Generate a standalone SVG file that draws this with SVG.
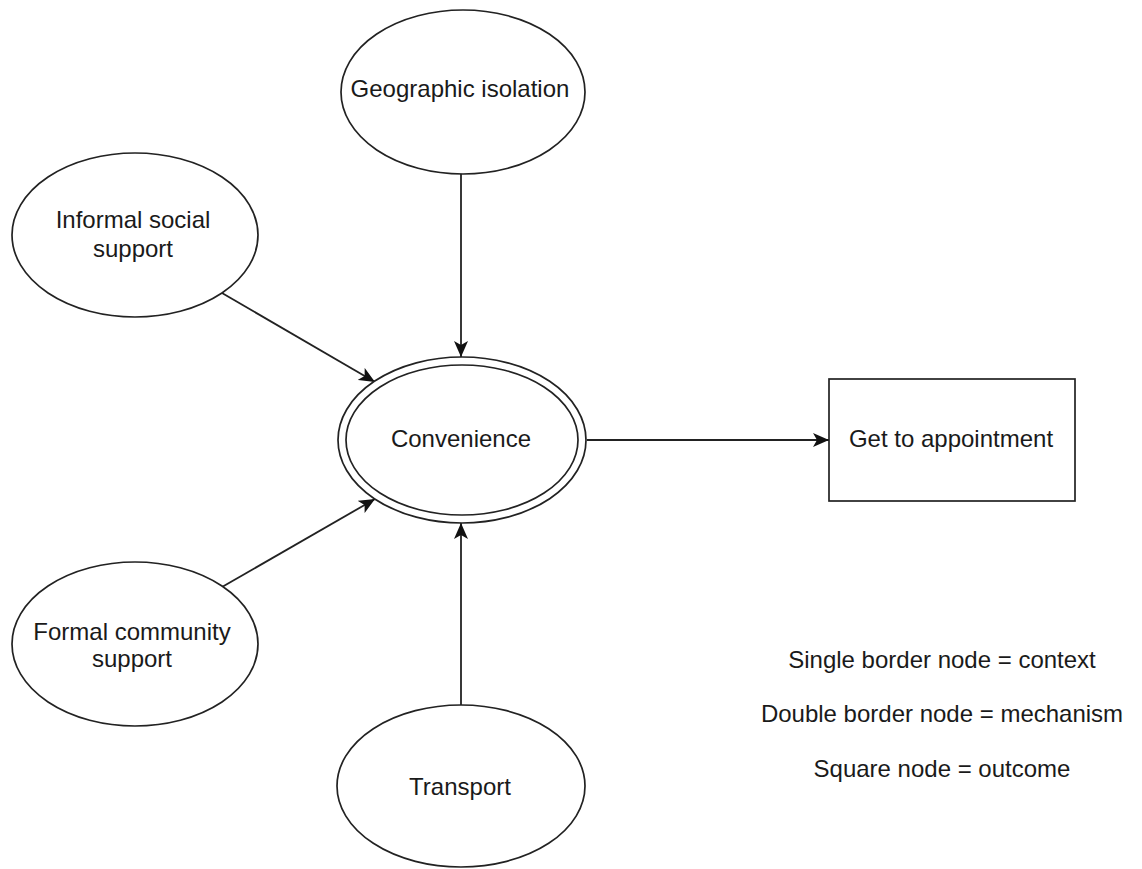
<svg xmlns="http://www.w3.org/2000/svg" width="1142" height="869" viewBox="0 0 1142 869">
<style>
.node{fill:#fff;stroke:#222;stroke-width:1.7}
.lbl{font-family:"Liberation Sans",Arial,sans-serif;font-size:24px;fill:#1a1a1a;text-anchor:middle}
.edge{fill:none;stroke:#222;stroke-width:1.8}
</style>
<defs>
<marker id="arr" viewBox="0 0 16 14" refX="16" refY="7" markerWidth="16" markerHeight="14" markerUnits="userSpaceOnUse" orient="auto">
<path d="M0,0 L16,7 L0,14 L4,7 Z" fill="#111"/>
</marker>
</defs>
<rect width="1142" height="869" fill="#fff"/>
<g id="connectors">
<line class="edge" x1="461" y1="174" x2="461" y2="357" marker-end="url(#arr)"/>
<line class="edge" x1="222" y1="293" x2="375" y2="382" marker-end="url(#arr)"/>
<line class="edge" x1="222" y1="587" x2="375" y2="499" marker-end="url(#arr)"/>
<line class="edge" x1="461" y1="706" x2="461" y2="523" marker-end="url(#arr)"/>
<line class="edge" x1="587" y1="440" x2="829" y2="440" marker-end="url(#arr)"/>
</g>
<g id="geographic-isolation">
<ellipse class="node" cx="463" cy="92" rx="122" ry="82"/>
<text class="lbl" x="460" y="97">Geographic isolation</text>
</g>
<g id="informal-social-support">
<ellipse class="node" cx="135" cy="235" rx="123" ry="82"/>
<text class="lbl" x="133" y="228">Informal social</text>
<text class="lbl" x="133" y="257">support</text>
</g>
<g id="convenience">
<ellipse class="node" cx="462" cy="440" rx="124" ry="83"/>
<ellipse class="node" cx="462" cy="440" rx="116" ry="75"/>
<text class="lbl" x="461" y="447">Convenience</text>
</g>
<g id="formal-community-support">
<ellipse class="node" cx="135" cy="644" rx="123" ry="82"/>
<text class="lbl" x="132" y="640">Formal community</text>
<text class="lbl" x="132" y="667">support</text>
</g>
<g id="transport">
<ellipse class="node" cx="461" cy="786" rx="124" ry="81"/>
<text class="lbl" x="460" y="795">Transport</text>
</g>
<g id="get-to-appointment">
<rect class="node" x="829" y="379" width="246" height="122"/>
<text class="lbl" x="951" y="447">Get to appointment</text>
</g>
<g id="legend">
<text class="lbl" x="942" y="668">Single border node = context</text>
<text class="lbl" x="942" y="722">Double border node = mechanism</text>
<text class="lbl" x="942" y="777">Square node = outcome</text>
</g>
</svg>
